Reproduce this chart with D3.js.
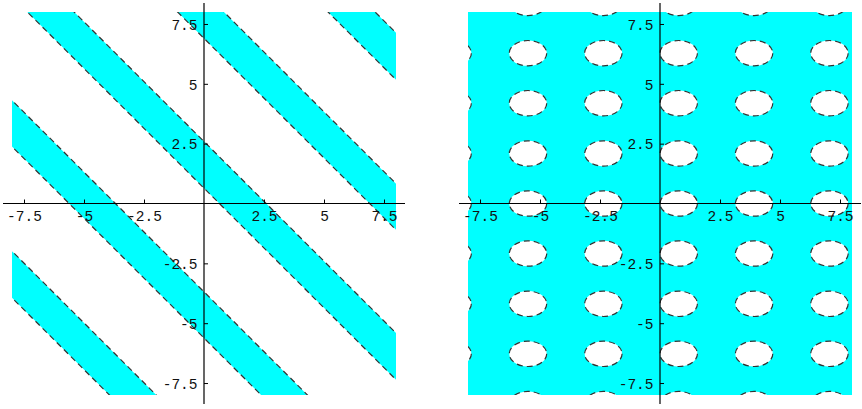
<!DOCTYPE html>
<html><head><meta charset="utf-8">
<script src="https://cdn.jsdelivr.net/npm/d3@7"></script>
<style>body{margin:0;background:#fff}svg{display:block}</style>
</head><body>
<svg id="chart" width="862" height="409"></svg>
<script>
// Shared plot range and tick marks
const domain = [-8, 8];
const majorTicks = [-7.5, -5, -2.5, 2.5, 5, 7.5];
const minorTicks = d3.range(-8, 8.001, 0.5).filter(v => v !== 0 && !majorTicks.includes(v));

// Left panel: diagonal bands, each given by the low/high value of x + y
const bandLow  = [-11.94, -5.62, 0.64, 6.90, 13.17];
const bandHigh = [-9.99, -3.69, 2.59, 8.83, 15.13];

// Right panel: elliptical holes at these centres, with these half-axes
const holeX = [-8.64, -5.50, -2.36, 0.78, 3.92, 7.06];
const holeY = [-8.38, -6.28, -4.19, -2.09, 0, 2.09, 4.19, 6.28, 8.38];
const holeRx = 0.78, holeRy = 0.53;

const fillColor = "#00ffff";
const dash = "6,4";
const svg = d3.select("#chart");

function panel(id, xRange, yRange) {
  const x = d3.scaleLinear().domain(domain).range(xRange);
  const y = d3.scaleLinear().domain(domain).range(yRange);
  const g = svg.append("g");
  g.append("clipPath").attr("id", id)
    .append("rect")
    .attr("x", x(domain[0])).attr("y", y(domain[1]))
    .attr("width", x(domain[1]) - x(domain[0]))
    .attr("height", y(domain[0]) - y(domain[1]));
  const plot = g.append("g").attr("clip-path", `url(#${id})`);
  return {x, y, g, plot};
}

function drawAxes(p) {
  const {x, y, g} = p;
  const pad = 9;
  const x0 = x(0), y0 = y(0);
  const fmt = d => String(d);

  // horizontal axis: ticks pointing up, labels below
  const ax = g.append("g").attr("transform", `translate(0,${y0})`);
  ax.call(d3.axisBottom(x).tickValues(minorTicks).tickSize(-2.5).tickFormat(""));
  ax.call(d3.axisBottom(x).tickValues(majorTicks).tickSize(-4).tickFormat(fmt));
  ax.selectAll(".domain").remove();
  ax.selectAll("text").attr("dy", null).attr("y", 17);

  // vertical axis: ticks pointing right, labels on the left
  const ay = g.append("g").attr("transform", `translate(${x0},0)`);
  ay.call(d3.axisLeft(y).tickValues(minorTicks).tickSize(-2.5).tickFormat(""));
  ay.call(d3.axisLeft(y).tickValues(majorTicks).tickSize(-4).tickPadding(6.5).tickFormat(fmt));
  ay.selectAll(".domain").remove();
  ay.selectAll("text").attr("dy", "0.36em");

  g.selectAll(".tick line").attr("stroke", "#000");
  g.selectAll(".tick text")
    .attr("fill", "#111")
    .style("font-family", "'Liberation Mono', 'DejaVu Sans Mono', monospace")
    .style("font-size", "14.5px");

  const [xa, xb] = x.range();
  const [ya, yb] = y.range();
  g.append("line").attr("x1", xa - pad).attr("x2", xb + pad)
    .attr("y1", y0).attr("y2", y0).attr("stroke", "#000").attr("stroke-width", 1.2);
  g.append("line").attr("x1", x0).attr("x2", x0)
    .attr("y1", yb - pad).attr("y2", ya + pad).attr("stroke", "#000").attr("stroke-width", 1.2);
}

// ---- Left panel: bands between the lines x + y = low and x + y = high
const left = panel("clipLeft", [12, 396], [395, 12]);
{
  const {x, y, plot} = left;
  const far = 20;
  const bands = bandLow.map((lo, i) => ({lo, hi: bandHigh[i]}));
  plot.selectAll("path.band").data(bands).join("path")
    .attr("class", "band")
    .attr("fill", fillColor)
    .attr("d", b => "M" + [
      [-far, b.lo + far], [far, b.lo - far], [far, b.hi - far], [-far, b.hi + far]
    ].map(([u, v]) => `${x(u)},${y(v)}`).join("L") + "Z");

  const edges = bandLow.concat(bandHigh);
  plot.selectAll("line.edge").data(edges).join("line")
    .attr("class", "edge")
    .attr("x1", c => x(-far)).attr("y1", c => y(c + far))
    .attr("x2", c => x(far)).attr("y2", c => y(c - far))
    .attr("stroke", "#333").attr("stroke-width", 1.2)
    .attr("stroke-dasharray", dash);
}
drawAxes(left);

// ---- Right panel: filled square with elliptical holes
const right = panel("clipRight", [468, 852], [395, 12]);
{
  const {x, y, plot} = right;
  plot.append("rect")
    .attr("x", x(domain[0])).attr("y", y(domain[1]))
    .attr("width", x(domain[1]) - x(domain[0]))
    .attr("height", y(domain[0]) - y(domain[1]))
    .attr("fill", fillColor);
  const holes = holeX.flatMap(cx => holeY.map(cy => ({cx, cy})));
  plot.selectAll("ellipse").data(holes).join("ellipse")
    .attr("cx", d => x(d.cx)).attr("cy", d => y(d.cy))
    .attr("rx", x(holeRx) - x(0)).attr("ry", y(0) - y(holeRy))
    .attr("fill", "#fff")
    .attr("stroke", "#333").attr("stroke-width", 1.2)
    .attr("stroke-dasharray", dash);
}
drawAxes(right);
</script>
</body></html>
